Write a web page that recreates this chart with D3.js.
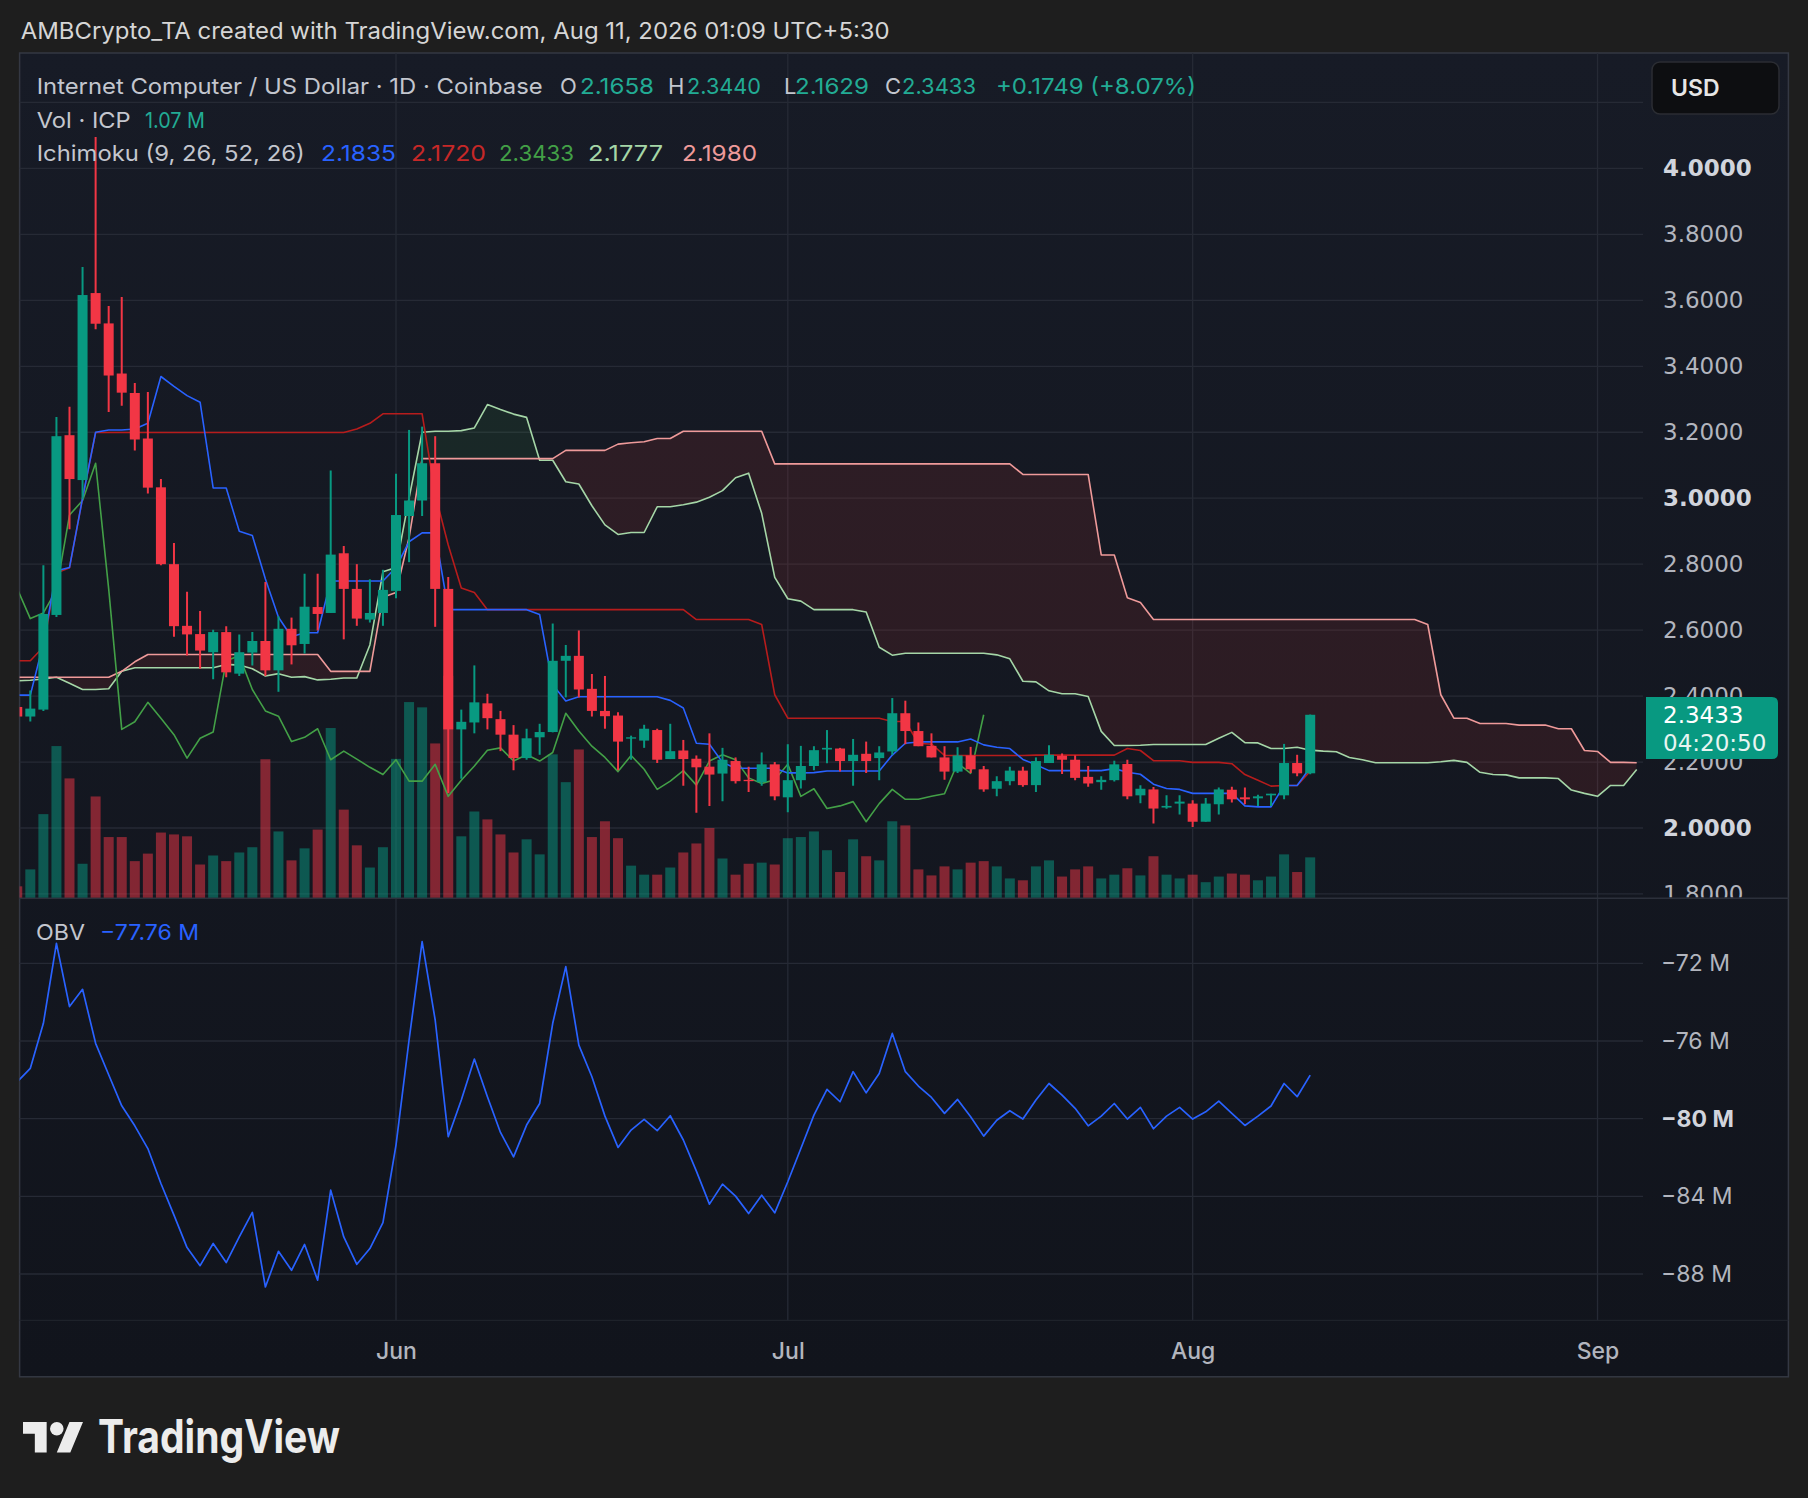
<!DOCTYPE html>
<html><head><meta charset="utf-8">
<script src="https://cdn.jsdelivr.net/npm/d3@7"></script>
<style>
html,body{margin:0;padding:0;background:#1e1e1e;}
svg{display:block;}
</style></head>
<body>
<svg id="chart" width="1808" height="1498"></svg>
<script>
// ---------------- DATA ----------------
const firstBarDate = "2026-05-03";   // date of first (partly visible) daily bar
const opens = [2.367,2.338,2.359,2.646,3.191,3.055,3.622,3.530,3.378,3.319,3.181,3.033,2.800,2.613,2.588,2.533,2.594,2.468,2.532,2.567,2.478,2.604,2.558,2.670,2.652,2.833,2.725,2.632,2.652,2.719,2.946,2.993,3.106,2.725,2.299,2.320,2.378,2.330,2.283,2.212,2.275,2.291,2.507,2.522,2.422,2.355,2.341,2.271,2.265,2.297,2.209,2.235,2.210,2.186,2.165,2.203,2.146,2.139,2.193,2.093,2.145,2.188,2.238,2.241,2.203,2.225,2.212,2.232,2.348,2.294,2.249,2.214,2.171,2.220,2.178,2.119,2.142,2.174,2.130,2.197,2.219,2.207,2.155,2.139,2.145,2.194,2.099,2.117,2.062,2.074,2.074,2.019,2.072,2.116,2.093,2.090,2.099,2.099,2.197,2.1658];
const highs = [2.380,2.417,2.797,3.246,3.277,3.701,4.095,3.583,3.610,3.349,3.322,3.058,2.864,2.716,2.658,2.601,2.612,2.587,2.594,2.746,2.642,2.638,2.771,2.771,3.084,2.855,2.800,2.754,2.783,3.074,3.207,3.217,3.188,2.761,2.359,2.493,2.407,2.355,2.312,2.301,2.316,2.620,2.555,2.599,2.467,2.461,2.351,2.280,2.313,2.301,2.316,2.267,2.220,2.287,2.243,2.214,2.186,2.229,2.200,2.254,2.249,2.248,2.297,2.243,2.270,2.262,2.248,2.394,2.386,2.320,2.287,2.248,2.245,2.246,2.188,2.157,2.186,2.186,2.214,2.251,2.226,2.220,2.188,2.157,2.204,2.207,2.130,2.124,2.099,2.099,2.084,2.091,2.123,2.125,2.123,2.101,2.104,2.255,2.222,2.3440];
const lows = [2.330,2.323,2.355,2.640,2.906,2.997,3.512,3.261,3.280,3.145,3.014,2.797,2.580,2.523,2.483,2.451,2.457,2.461,2.493,2.461,2.413,2.496,2.529,2.599,2.652,2.572,2.613,2.623,2.613,2.697,2.806,2.946,2.610,2.106,2.149,2.287,2.299,2.233,2.175,2.207,2.222,2.290,2.396,2.396,2.338,2.301,2.175,2.207,2.243,2.197,2.209,2.128,2.046,2.067,2.081,2.135,2.109,2.128,2.084,2.048,2.120,2.175,2.196,2.171,2.128,2.167,2.145,2.222,2.254,2.248,2.214,2.146,2.167,2.167,2.110,2.096,2.130,2.125,2.109,2.197,2.164,2.145,2.125,2.116,2.141,2.087,2.075,2.014,2.058,2.041,2.003,2.019,2.041,2.077,2.072,2.067,2.067,2.087,2.157,2.1629];
const closes = [2.338,2.362,2.649,3.188,3.058,3.616,3.529,3.372,3.320,3.178,3.032,2.800,2.612,2.587,2.538,2.594,2.472,2.533,2.567,2.478,2.604,2.554,2.671,2.649,2.829,2.725,2.635,2.652,2.722,2.949,2.993,3.106,2.725,2.299,2.322,2.381,2.333,2.283,2.212,2.272,2.291,2.507,2.522,2.420,2.355,2.339,2.262,2.275,2.301,2.207,2.233,2.209,2.184,2.162,2.207,2.142,2.142,2.193,2.096,2.145,2.188,2.236,2.243,2.203,2.222,2.203,2.229,2.348,2.294,2.248,2.214,2.171,2.220,2.178,2.117,2.142,2.174,2.130,2.203,2.222,2.207,2.152,2.135,2.146,2.193,2.096,2.119,2.059,2.067,2.080,2.019,2.074,2.117,2.087,2.087,2.096,2.104,2.197,2.1658,2.3433];
const volumesM = [0.30,0.75,2.22,4.03,3.17,0.90,2.69,1.61,1.61,0.97,1.17,1.73,1.68,1.63,0.88,1.12,0.97,1.20,1.34,3.68,1.76,0.99,1.31,1.81,4.51,2.34,1.39,0.80,1.34,3.69,5.20,5.06,4.10,5.90,1.63,2.29,2.08,1.68,1.20,1.55,1.15,3.81,3.07,3.94,1.61,2.03,1.58,0.85,0.61,0.61,0.80,1.20,1.44,1.85,1.04,0.61,0.90,0.93,0.88,1.58,1.61,1.76,1.26,0.68,1.55,1.10,0.99,2.03,1.92,0.75,0.59,0.83,0.75,0.93,0.97,0.83,0.51,0.46,0.83,0.99,0.56,0.75,0.83,0.51,0.61,0.78,0.59,1.10,0.61,0.51,0.61,0.41,0.56,0.64,0.61,0.46,0.56,1.15,0.68,1.07];
const obvM = [-78.10,-77.41,-75.09,-70.97,-74.23,-73.34,-76.12,-77.74,-79.34,-80.37,-81.54,-83.34,-84.97,-86.64,-87.57,-86.43,-87.41,-86.09,-84.83,-88.67,-86.83,-87.81,-86.48,-88.32,-83.68,-86.09,-87.50,-86.69,-85.35,-81.36,-75.95,-70.88,-74.92,-80.93,-79.04,-76.93,-78.87,-80.71,-81.97,-80.33,-79.22,-75.09,-72.17,-76.21,-77.84,-79.87,-81.48,-80.59,-80.04,-80.62,-79.85,-81.10,-82.70,-84.40,-83.37,-83.99,-84.89,-83.94,-84.85,-83.25,-81.54,-79.82,-78.49,-79.13,-77.58,-78.67,-77.67,-75.61,-77.58,-78.32,-78.91,-79.73,-79.01,-79.90,-80.90,-80.08,-79.59,-80.02,-79.04,-78.19,-78.79,-79.47,-80.37,-79.87,-79.22,-80.02,-79.42,-80.52,-79.87,-79.42,-80.02,-79.65,-79.10,-79.73,-80.35,-79.87,-79.35,-78.19,-78.87,-77.76];
// Ichimoku lines, one value per bar (same dates as the candles)
const tenkan = [2.403,2.403,2.560,2.780,2.790,3.000,3.200,3.207,3.207,3.210,3.227,3.369,3.339,3.311,3.291,3.031,3.031,2.900,2.887,2.755,2.639,2.580,2.592,2.592,2.749,2.749,2.749,2.749,2.749,2.790,2.868,2.895,2.895,2.662,2.662,2.662,2.662,2.662,2.662,2.662,2.647,2.434,2.385,2.398,2.398,2.398,2.398,2.398,2.398,2.398,2.387,2.364,2.257,2.254,2.199,2.181,2.181,2.181,2.181,2.167,2.167,2.168,2.173,2.173,2.173,2.173,2.173,2.221,2.257,2.261,2.261,2.261,2.261,2.270,2.252,2.245,2.241,2.208,2.192,2.174,2.174,2.174,2.174,2.174,2.180,2.169,2.163,2.133,2.120,2.117,2.105,2.105,2.105,2.105,2.067,2.064,2.064,2.129,2.129,2.1835];
const kijun = [2.507,2.507,2.549,2.773,2.789,3.000,3.199,3.199,3.199,3.199,3.199,3.199,3.199,3.199,3.199,3.199,3.199,3.199,3.199,3.199,3.199,3.199,3.199,3.199,3.199,3.199,3.210,3.227,3.256,3.256,3.256,3.256,3.012,2.858,2.728,2.714,2.662,2.662,2.662,2.662,2.662,2.662,2.662,2.662,2.662,2.662,2.662,2.662,2.662,2.662,2.662,2.662,2.632,2.632,2.632,2.632,2.632,2.617,2.404,2.333,2.333,2.333,2.333,2.333,2.333,2.333,2.333,2.323,2.323,2.257,2.254,2.220,2.220,2.220,2.220,2.220,2.220,2.220,2.221,2.221,2.221,2.221,2.221,2.221,2.221,2.241,2.235,2.204,2.204,2.204,2.199,2.199,2.199,2.195,2.162,2.145,2.127,2.129,2.129,2.1720];
// Leading spans, plotted from the first bar date to 25 bars past the last bar
const senkouA = [2.446,2.448,2.452,2.457,2.439,2.420,2.420,2.422,2.475,2.486,2.486,2.486,2.486,2.486,2.486,2.486,2.496,2.494,2.483,2.461,2.468,2.457,2.459,2.449,2.451,2.455,2.455,2.555,2.777,2.790,3.000,3.200,3.203,3.203,3.205,3.213,3.284,3.269,3.255,3.245,3.115,3.115,3.050,3.043,2.977,2.919,2.890,2.896,2.896,2.974,2.974,2.980,2.988,3.003,3.023,3.062,3.076,2.954,2.760,2.695,2.688,2.662,2.662,2.662,2.662,2.655,2.548,2.524,2.530,2.530,2.530,2.530,2.530,2.530,2.530,2.525,2.513,2.445,2.443,2.416,2.407,2.407,2.399,2.293,2.250,2.250,2.251,2.253,2.253,2.253,2.253,2.253,2.272,2.290,2.259,2.258,2.241,2.241,2.245,2.236,2.233,2.231,2.214,2.207,2.198,2.198,2.198,2.198,2.198,2.201,2.205,2.199,2.169,2.162,2.161,2.152,2.152,2.152,2.150,2.115,2.105,2.096,2.129,2.129,2.1777];
const senkouB = [2.457,2.457,2.457,2.457,2.457,2.457,2.457,2.457,2.475,2.504,2.526,2.526,2.526,2.526,2.526,2.526,2.526,2.526,2.526,2.526,2.526,2.526,2.526,2.526,2.475,2.475,2.475,2.475,2.700,2.714,2.880,3.120,3.120,3.120,3.120,3.120,3.120,3.120,3.120,3.120,3.120,3.120,3.145,3.145,3.145,3.145,3.164,3.168,3.171,3.181,3.181,3.203,3.203,3.203,3.203,3.203,3.203,3.203,3.104,3.104,3.104,3.104,3.104,3.104,3.104,3.104,3.104,3.104,3.104,3.104,3.104,3.104,3.104,3.104,3.104,3.104,3.104,3.072,3.072,3.072,3.072,3.072,3.072,2.828,2.828,2.698,2.684,2.632,2.632,2.632,2.632,2.632,2.632,2.632,2.632,2.632,2.632,2.632,2.632,2.632,2.632,2.632,2.632,2.632,2.632,2.632,2.632,2.632,2.617,2.404,2.333,2.333,2.317,2.317,2.317,2.312,2.312,2.312,2.301,2.301,2.235,2.232,2.199,2.199,2.1980];
const chikouShift = 25;
const priceTicks = [4.2,4.0,3.8,3.6,3.4,3.2,3.0,2.8,2.6,2.4,2.2,2.0,1.8];
const boldPriceTicks = [4.0,3.0,2.0];
const obvTicks = [-72,-76,-80,-84,-88];
const boldObvTicks = [-80];
const monthTicks = ["2026-06-01","2026-07-01","2026-08-01","2026-09-01"];
const headerText = "AMBCrypto_TA created with TradingView.com, Aug 11, 2026 01:09 UTC+5:30";
const symbolText = "Internet Computer / US Dollar · 1D · Coinbase";
const ohlcLabels = [["O","2.1658"],["H","2.3440"],["L","2.1629"],["C","2.3433"]];
const changeText = "+0.1749 (+8.07%)";
const volText = "1.07 M";
const ichiValues = ["2.1835","2.1720","2.3433","2.1777","2.1980"];
const obvText = "−77.76 M";
const lastPriceText = "2.3433";
const countdownText = "04:20:50";

// ---------------- LAYOUT ----------------
const svg = d3.select("#chart");
const parse = d3.utcParse("%Y-%m-%d");
const t0 = parse(firstBarDate);
const dayOf = k => d3.utcDay.offset(t0, k);

const P = {left:19.6, right:1643, top:53, priceBottom:898.3, obvBottom:1320.3, bottom:1376.8, outerRight:1788.4};
const x = d3.scaleUtc().domain([parse("2026-06-01"), parse("2026-07-01")]).range([396, 787.8]);
const y = d3.scaleLinear().domain([2.0, 4.0]).range([828.0, 168.4]);
const yVol = d3.scaleLinear().domain([0, 1]).range([897.6, 860.0]);
const yObv = d3.scaleLinear().domain([-88, -72]).range([1274.0, 963.3]);

const UP = "#089981", DOWN = "#f23645";
const defs = svg.append("defs");
const grad = defs.append("linearGradient").attr("id","bg").attr("x1",0).attr("x2",0).attr("y1",0).attr("y2",1);
grad.append("stop").attr("offset","0%").attr("stop-color","#171b26");
grad.append("stop").attr("offset","100%").attr("stop-color","#11141c");
defs.append("clipPath").attr("id","clipPrice").append("rect")
  .attr("x",P.left).attr("y",P.top).attr("width",P.right-P.left).attr("height",P.priceBottom-P.top);
defs.append("clipPath").attr("id","clipObv").append("rect")
  .attr("x",P.left).attr("y",P.priceBottom).attr("width",P.right-P.left).attr("height",P.obvBottom-P.priceBottom);
defs.append("clipPath").attr("id","clipPriceAxis").append("rect")
  .attr("x",P.right).attr("y",P.top).attr("width",P.outerRight-P.right).attr("height",P.priceBottom-P.top-1);

// panel
svg.append("rect").attr("x",P.left).attr("y",P.top).attr("width",P.outerRight-P.left).attr("height",P.bottom-P.top)
  .attr("fill","url(#bg)").attr("stroke","#343843").attr("stroke-width",1.5);

// grid
const grid = svg.append("g").attr("stroke","#262a35").attr("stroke-width",1.3);
grid.selectAll(".hp").data(priceTicks).join("line")
  .attr("x1",P.left).attr("x2",P.right).attr("y1",d=>y(d)).attr("y2",d=>y(d))
  .attr("clip-path","url(#clipPrice)");
grid.selectAll(".ho").data(obvTicks).join("line").attr("class","ho")
  .attr("x1",P.left).attr("x2",P.right).attr("y1",d=>yObv(d)).attr("y2",d=>yObv(d));
grid.selectAll(".v").data(monthTicks).join("line").attr("class","v")
  .attr("x1",d=>x(parse(d))).attr("x2",d=>x(parse(d))).attr("y1",P.top).attr("y2",P.obvBottom);
// pane separators
svg.append("line").attr("x1",P.left).attr("x2",P.outerRight).attr("y1",P.priceBottom).attr("y2",P.priceBottom)
  .attr("stroke","#2c303b").attr("stroke-width",1.5);
svg.append("line").attr("x1",P.left).attr("x2",P.outerRight).attr("y1",P.obvBottom).attr("y2",P.obvBottom)
  .attr("stroke","#22262f").attr("stroke-width",1);

// bar data
const bars = opens.map((o,k)=>({date:dayOf(k), o, h:highs[k], l:lows[k], c:closes[k], v:volumesM[k], obv:obvM[k], up: closes[k] >= o}));

const pricePane = svg.append("g").attr("clip-path","url(#clipPrice)");
const bw = 10;

// volume
pricePane.append("g").selectAll("rect").data(bars).join("rect")
  .attr("x",d=>x(d.date)-bw/2).attr("width",bw)
  .attr("y",d=>yVol(d.v)).attr("height",d=>yVol(0)-yVol(d.v))
  .attr("fill",d=>d.up?"rgba(8,153,129,0.5)":"rgba(242,54,69,0.5)");

// cloud
const spans = senkouA.map((a,k)=>({date:dayOf(k), a, b:senkouB[k]}));
const area = d3.area().x(d=>x(d.date)).y0(d=>y(d.b)).y1(d=>y(d.a));
defs.append("clipPath").attr("id","aboveB").append("path")
  .attr("d", d3.area().x(d=>x(d.date)).y0(0).y1(d=>y(d.b))(spans));
defs.append("clipPath").attr("id","belowB").append("path")
  .attr("d", d3.area().x(d=>x(d.date)).y0(P.obvBottom).y1(d=>y(d.b))(spans));
const cloud = pricePane.append("g");
cloud.append("path").attr("d",area(spans)).attr("fill","rgba(67,160,71,0.11)").attr("clip-path","url(#aboveB)");
cloud.append("path").attr("d",area(spans)).attr("fill","rgba(244,67,54,0.11)").attr("clip-path","url(#belowB)");

const line = d3.line().x(d=>x(d.date)).y(d=>y(d.v));
const drawLine = (vals, color, w) => pricePane.append("path")
  .attr("d", line(vals)).attr("fill","none").attr("stroke",color).attr("stroke-width",w).attr("stroke-linejoin","round");
drawLine(spans.map(d=>({date:d.date, v:d.a})), "#a5d6a7", 1.6);
drawLine(spans.map(d=>({date:d.date, v:d.b})), "#ef9a9a", 1.6);
drawLine(bars.slice(chikouShift).map((d,k)=>({date:dayOf(k), v:d.c})), "#43a047", 1.6);
drawLine(kijun.map((v,k)=>({date:dayOf(k), v})), "#b71c1c", 1.6);
drawLine(tenkan.map((v,k)=>({date:dayOf(k), v})), "#2962ff", 1.6);

// candles
const cg = pricePane.append("g").selectAll("g").data(bars).join("g");
cg.append("line").attr("x1",d=>x(d.date)).attr("x2",d=>x(d.date))
  .attr("y1",d=>y(d.h)).attr("y2",d=>y(d.l)).attr("stroke",d=>d.up?UP:DOWN).attr("stroke-width",2);
cg.append("rect").attr("x",d=>x(d.date)-bw/2).attr("width",bw)
  .attr("y",d=>y(Math.max(d.o,d.c))).attr("height",d=>Math.max(1.2, Math.abs(y(d.o)-y(d.c))))
  .attr("fill",d=>d.up?UP:DOWN);

// OBV
svg.append("g").attr("clip-path","url(#clipObv)").append("path")
  .attr("d", d3.line().x(d=>x(d.date)).y(d=>yObv(d.obv))(bars))
  .attr("fill","none").attr("stroke","#2962ff").attr("stroke-width",1.7).attr("stroke-linejoin","round");

// axes
const priceAxis = svg.append("g").attr("clip-path","url(#clipPriceAxis)").append("g").attr("transform",`translate(${P.right},0)`)
  .call(d3.axisRight(y).tickValues(priceTicks.filter(t=>t<4.1)).tickFormat(d3.format(".4f")).tickSize(0).tickPadding(20));
priceAxis.select(".domain").remove();
priceAxis.selectAll("text").attr("font-family","DejaVu Sans").attr("font-size",23)
  .attr("fill",d=>boldPriceTicks.includes(d)?"#d1d4dc":"#b2b5be")
  .attr("font-weight",d=>boldPriceTicks.includes(d)?"bold":"normal");

const obvAxis = svg.append("g").attr("transform",`translate(${P.right},0)`)
  .call(d3.axisRight(yObv).tickValues(obvTicks).tickFormat(d=>d3.format("d")(d)+" M").tickSize(0).tickPadding(18));
obvAxis.select(".domain").remove();
obvAxis.selectAll("text").attr("font-family","Inter").attr("font-size",23)
  .attr("fill",d=>boldObvTicks.includes(d)?"#d1d4dc":"#b2b5be")
  .attr("font-weight",d=>boldObvTicks.includes(d)?"bold":"normal");

const timeAxis = svg.append("g").attr("transform",`translate(0,${P.obvBottom})`)
  .call(d3.axisBottom(x).tickValues(monthTicks.map(parse)).tickFormat(d3.utcFormat("%b")).tickSize(0).tickPadding(22));
timeAxis.select(".domain").remove();
timeAxis.selectAll("text").attr("font-family","Inter").attr("font-size",23).attr("fill","#b2b5be").attr("font-weight",500);

// last price label
const lp = svg.append("g");
lp.append("path").attr("d","M1646,697 H1772 Q1778,697 1778,703 V753 Q1778,759 1772,759 H1646 Z").attr("fill","#089981");
lp.append("text").attr("x",1663).attr("y",723).text(lastPriceText)
  .attr("font-family","DejaVu Sans").attr("font-size",23).attr("fill","#ffffff");
lp.append("text").attr("x",1663).attr("y",751).text(countdownText)
  .attr("font-family","DejaVu Sans").attr("font-size",23).attr("fill","#e8f5f2");

// USD box
svg.append("rect").attr("x",1652).attr("y",62).attr("width",127).attr("height",52).attr("rx",8)
  .attr("fill","#0d0e11").attr("stroke","#2b2d33").attr("stroke-width",1.5);
svg.append("text").attr("x",1671).attr("y",96).text("USD").attr("font-family","Inter").attr("font-size",23)
  .attr("font-weight",600).attr("fill","#e6e6e6");

// header & legends
const T = (xx,yy,txt,fill,opts={}) => {
  const t = svg.append("text").attr("x",xx).attr("y",yy).text(txt).attr("fill",fill)
    .attr("font-family","Inter").attr("font-size",opts.size||22).attr("font-weight",opts.weight||400);
  if (opts.len) t.attr("textLength",opts.len).attr("lengthAdjust","spacingAndGlyphs");
  return t;
};
T(20.7,39,headerText,"#d6d6d6",{len:869, size:22.5});
T(36.7,94,symbolText,"#c3c6ce",{len:506});
const ohlcX = [[560,580],[668,687],[784,795],[885,902]];
ohlcLabels.forEach((p,k)=>{ T(ohlcX[k][0],94,p[0],"#c3c6ce"); T(ohlcX[k][1],94,p[1],"#22ab94",{len:74}); });
T(996,94,changeText,"#22ab94",{len:200});
T(36.7,127.5,"Vol · ICP","#c3c6ce",{len:94});
T(145,127.5,volText,"#22ab94",{len:60});
T(36.7,161,"Ichimoku (9, 26, 52, 26)","#c3c6ce",{len:268});
const ichiColors = ["#2962ff","#c62828","#43a047","#a5d6a7","#ef9a9a"];
const ichiX = [321,411,499,588,682];
ichiValues.forEach((v,k)=>T(ichiX[k],161,v,ichiColors[k],{len:75}));
T(36,940,"OBV","#c3c6ce",{len:49});
T(100,940,obvText,"#2962ff",{len:99});

// TradingView logo
const logo = svg.append("g").attr("transform","translate(23,1415.2) scale(1.69)").attr("fill","#ececec");
logo.append("path").attr("d","M14 22H7V11H0V4h14v18zM28 22h-8l7.5-18h8L28 22z");
logo.append("circle").attr("cx",20).attr("cy",8).attr("r",4);
T(98,1453,"TradingView","#ececec",{len:242, size:46, weight:700});
</script>
</body></html>
